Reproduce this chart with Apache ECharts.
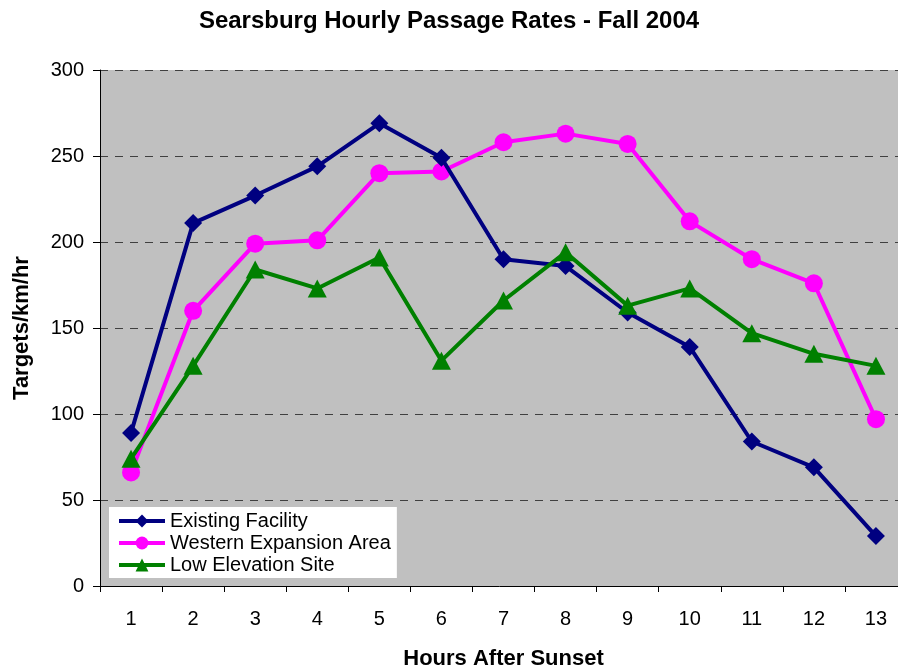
<!DOCTYPE html>
<html>
<head>
<meta charset="utf-8">
<script src="https://cdn.jsdelivr.net/npm/echarts@6/dist/echarts.min.js"></script>
<style>
  html, body { margin: 0; padding: 0; background: #fff; }
  #chart { width: 898px; height: 671px; }
</style>
</head>
<body>
<div id="chart"></div>
<script>
// hours after sunset
var hours = ['1', '2', '3', '4', '5', '6', '7', '8', '9', '10', '11', '12', '13'];

// targets/km/hr
var existingFacility = [89, 211, 227, 244, 269, 249, 190, 186, 159, 139, 84, 69, 29];
var westernExpansion = [66, 160, 199, 201, 240, 241, 258, 263, 257, 212, 190, 176, 97];
var lowElevation = [74, 128, 184, 173, 191, 131, 166, 194, 163, 173, 147, 135, 128];

var chartDom = document.getElementById('chart');
var myChart = echarts.init(chartDom);
var font = 'Liberation Sans, Arial, sans-serif';

var option = {
  backgroundColor: '#fff',
  animation: false,
  title: {
    text: 'Searsburg Hourly Passage Rates - Fall 2004',
    left: 'center',
    top: 4,
    textStyle: { fontFamily: font, fontSize: 24, fontWeight: 'bold', color: '#000' }
  },
  legend: {
    orient: 'vertical',
    left: 109,
    top: 507,
    backgroundColor: '#fff',
    padding: [4, 6, 3, 8],
    itemGap: 2,
    itemWidth: 46,
    itemHeight: 16,
    lineStyle: { width: 4 },
    textStyle: { fontFamily: font, fontSize: 20, lineHeight: 20, color: '#000' },
    data: ['Existing Facility', 'Western Expansion Area', 'Low Elevation Site']
  },
  grid: {
    left: 100,
    right: -9,
    top: 70,
    bottom: 85,
    containLabel: false,
    outerBoundsMode: 'none',
    show: true,
    backgroundColor: '#C0C0C0',
    borderWidth: 0
  },
  xAxis: {
    type: 'category',
    data: hours,
    boundaryGap: true,
    name: 'Hours After Sunset',
    nameLocation: 'middle',
    nameGap: 62,
    nameTextStyle: { fontFamily: font, fontSize: 22, fontWeight: 'bold', color: '#000' },
    axisLine: { lineStyle: { color: '#000', width: 1 } },
    axisTick: { show: true, length: 6, lineStyle: { color: '#000' } },
    axisLabel: { margin: 23, fontFamily: font, fontSize: 20, color: '#000' },
    splitLine: { show: false }
  },
  yAxis: {
    type: 'value',
    min: 0,
    max: 300,
    interval: 50,
    name: 'Targets/km/hr',
    nameLocation: 'middle',
    nameGap: 67,
    nameTextStyle: { fontFamily: font, fontSize: 22, fontWeight: 'bold', color: '#000' },
    axisLine: { show: true, lineStyle: { color: '#000', width: 1 } },
    axisTick: { show: true, length: 7, lineStyle: { color: '#000' } },
    axisLabel: { margin: 16, fontFamily: font, fontSize: 20, color: '#000' },
    splitLine: { show: true, lineStyle: { color: '#404040', width: 1, type: [8, 7] } }
  },
  series: [
    {
      name: 'Existing Facility',
      type: 'line',
      data: existingFacility,
      symbol: 'diamond',
      symbolSize: 18,
      color: '#000080',
      lineStyle: { width: 4, color: '#000080' },
      itemStyle: { color: '#000080' },
      z: 4
    },
    {
      name: 'Western Expansion Area',
      type: 'line',
      data: westernExpansion,
      symbol: 'circle',
      symbolSize: 18,
      color: '#FF00FF',
      lineStyle: { width: 4, color: '#FF00FF' },
      itemStyle: { color: '#FF00FF' },
      z: 3
    },
    {
      name: 'Low Elevation Site',
      type: 'line',
      data: lowElevation,
      symbol: 'triangle',
      symbolSize: [19, 18],
      color: '#008000',
      lineStyle: { width: 4, color: '#008000' },
      itemStyle: { color: '#008000' },
      z: 5
    }
  ]
};

option && myChart.setOption(option);
</script>
</body>
</html>
